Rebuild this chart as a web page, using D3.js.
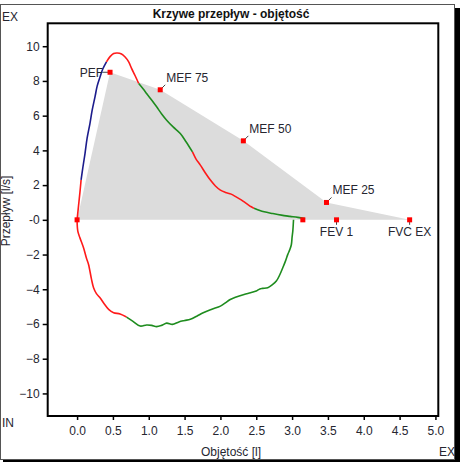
<!DOCTYPE html>
<html lang="pl">
<head>
<meta charset="UTF-8" />
<title>Krzywe przepływ - objętość</title>
<style>
  * { margin:0; padding:0; box-sizing:border-box; }
  body { background:#fff; width:462px; height:462px; overflow:hidden; }
  svg { display:block; font-family:'Liberation Sans', Arial, sans-serif; }
  .tick text { font-size:12px; fill:#262630; }
  .lbl { font-size:12px; fill:#262630; }
</style>
</head>
<body>
<script src="https://cdnjs.cloudflare.com/ajax/libs/d3/7.8.5/d3.min.js"></script>
<script>
  // expiration curve: [volume l, flow l/s], colour segment index
  const expVol  = [0,0.02,0.04,0.056, 0.08,0.11,0.14,0.18,0.21,0.25,0.28,0.32,0.36,0.41,
                   0.46,0.51,0.56,0.62,0.67,0.72,0.76,0.81,0.86,
                   0.92,0.97,1.04,1.11,1.18,1.25,1.34,1.44,1.52,1.61,
                   1.66,1.72,1.79,1.86,1.93,2.00,2.07,2.15,2.22,2.29,2.36,2.43,2.47,
                   2.54,2.61,2.73,2.85,2.97,3.08,3.18];
  const expFlow = [0,0.8,1.6,2.3, 3.0,3.8,4.7,5.56,6.3,7.08,7.7,8.23,8.7,9.1,
                   9.4,9.58,9.61,9.55,9.38,9.1,8.72,8.3,7.85,
                   7.55,7.28,6.9,6.51,6.1,5.74,5.35,4.97,4.5,3.91,
                   3.5,3.15,2.7,2.29,1.95,1.71,1.58,1.48,1.32,1.15,0.95,0.75,0.66,
                   0.55,0.46,0.36,0.27,0.2,0.14,0.06];
  // index where each coloured piece ends
  const expBreaks = [3, 13, 22, 32, 45, 52];
  const expColors = ['red','blue','red','green','red','green'];

  // inspiration curve
  const inVol  = [0,0.01,0.04,0.09,0.13,0.16,0.20,0.23,0.27,0.32,0.38,0.44,0.51,0.60,0.69,
                  0.78,0.88,0.97,1.04,1.11,1.18,1.25,1.33,1.42,1.50,1.58,1.67,1.76,1.88,
                  2.00,2.07,2.13,2.20,2.33,2.42,2.50,2.55,2.59,2.66,2.72,2.78,2.83,2.87,
                  2.91,2.94,2.97,2.99,3.00,3.01,3.02];
  const inFlow = [0,-0.65,-1.04,-1.61,-2.2,-2.57,-3.4,-3.91,-4.25,-4.49,-4.85,-5.16,-5.35,-5.42,-5.6,
                  -5.85,-6.12,-6.06,-6.08,-6.15,-6.08,-5.95,-6.02,-5.88,-5.8,-5.73,-5.55,-5.35,-5.15,
                  -4.97,-4.78,-4.6,-4.48,-4.3,-4.2,-4.1,-3.98,-3.95,-3.91,-3.75,-3.53,-3.15,-2.76,
                  -2.35,-1.99,-1.7,-1.42,-1.0,-0.65,0];
  const inBreaks = [14, 49];
  const inColors = ['red','green'];

  // marked points
  const markNames = ['PEF','MEF 75','MEF 50','MEF 25','FEV 1','FVC EX'];
  const markVol   = [0.46, 1.16, 2.32, 3.48, 3.62, 4.64];
  const markFlow  = [8.5, 7.49, 4.55, 1.0, 0, 0];
  const endMarks  = [[0,0],[3.15,0]];

  const xTicks = d3.range(0, 5.01, 0.5);
  const yTicks = d3.range(-10, 10.1, 2);

  const colorMap = { red:'#ff1a1a', blue:'#1c1c8c', green:'#1e8c1e' };

  const W = 462, H = 462;
  const plot = { l:47.7, t:23.3, r:438.3, b:416 };

  const svg = d3.select('body').append('svg').attr('width', W).attr('height', H);

  // outer frame with shadow
  svg.append('rect').attr('x',455).attr('y',8).attr('width',5).attr('height',454).attr('fill','#000');
  svg.append('rect').attr('x',3).attr('y',459).attr('width',457).attr('height',3).attr('fill','#000');
  svg.append('rect').attr('x',0.5).attr('y',4.5).attr('width',454).attr('height',455)
     .attr('fill','#fff').attr('stroke','#555').attr('stroke-width',1);

  const x = d3.scaleLinear().domain([-0.41, 5.04]).range([plot.l, plot.r]);
  const y = d3.scaleLinear().domain([-11.3, 11.32]).range([plot.b, plot.t]);

  // grey parameter area
  const poly = [[0,0]].concat(markNames.map((n,i)=>[markVol[i], markFlow[i]]).filter((d,i)=>markNames[i]!=='FEV 1'));
  svg.append('path')
     .attr('d', d3.line().x(d=>x(d[0])).y(d=>y(d[1]))(poly) + 'Z')
     .attr('fill','#dcdcdc');

  // coloured curve pieces
  function drawCurve(vol, flow, breaks, colors) {
    let start = 0;
    breaks.forEach((end, k) => {
      const pts = d3.range(start, end + 1).map(i => [vol[i], flow[i]]);
      svg.append('path')
         .attr('d', d3.line().x(d=>x(d[0])).y(d=>y(d[1])).curve(d3.curveCatmullRom)(pts))
         .attr('fill','none').attr('stroke', colorMap[colors[k]]).attr('stroke-width',1.6);
      start = end;
    });
  }
  drawCurve(inVol, inFlow, inBreaks, inColors);
  drawCurve(expVol, expFlow, expBreaks, expColors);

  // markers and labels
  const ms = 5;
  endMarks.forEach(d => {
    svg.append('rect').attr('x', x(d[0])-ms/2).attr('y', y(d[1])-ms/2)
       .attr('width', ms).attr('height', ms).attr('fill','#ff0000');
  });
  markNames.forEach((name, i) => {
    const px = x(markVol[i]), py = y(markFlow[i]);
    const g = svg.append('g');
    if (name === 'PEF') {
      g.append('line').attr('x1',px-7).attr('y1',py).attr('x2',px-2).attr('y2',py).attr('stroke','#444');
      g.append('text').attr('class','lbl').attr('x',px-7).attr('y',py+4.5).attr('text-anchor','end').text(name);
    } else if (markFlow[i] === 0) {
      g.append('line').attr('x1',px).attr('y1',py).attr('x2',px).attr('y2',py+5).attr('stroke','#444');
      g.append('text').attr('class','lbl').attr('x',px).attr('y',py+16).attr('text-anchor','middle').text(name);
    } else {
      g.append('line').attr('x1',px+1).attr('y1',py-1).attr('x2',px+5).attr('y2',py-5).attr('stroke','#444');
      g.append('text').attr('class','lbl').attr('x',px+6).attr('y',py-8).text(name);
    }
    g.append('rect').attr('x', px-ms/2).attr('y', py-ms/2)
     .attr('width', ms).attr('height', ms).attr('fill','#ff0000');
  });

  // axes
  svg.append('g').attr('transform',`translate(${plot.l},0)`)
     .call(d3.axisLeft(y).tickValues(yTicks).tickSize(5).tickPadding(3)
       .tickFormat(d => d === 0 ? '-0' : d3.format('d')(d)))
     .call(g => g.select('.domain').remove())
     .call(g => g.selectAll('.tick line').attr('stroke','#000').attr('stroke-width',1.5));
  svg.append('g').attr('transform',`translate(0,${plot.b})`)
     .call(d3.axisBottom(x).tickValues(xTicks).tickSize(4).tickPadding(6).tickFormat(d3.format('.1f')))
     .call(g => g.select('.domain').remove())
     .call(g => g.selectAll('.tick line').attr('stroke','#000').attr('stroke-width',1.5));

  svg.append('rect').attr('x',plot.l).attr('y',plot.t)
     .attr('width',plot.r-plot.l).attr('height',plot.b-plot.t)
     .attr('fill','none').attr('stroke','#000').attr('stroke-width',2);

  // titles
  svg.append('text').attr('x',231).attr('y',17.5).attr('text-anchor','middle')
     .attr('font-size',12).attr('font-weight','bold').attr('fill','#111').text('Krzywe przepływ - objętość');
  svg.append('text').attr('class','lbl').attr('x',231).attr('y',456).attr('text-anchor','middle').text('Objętość [l]');
  svg.append('text').attr('class','lbl').attr('transform','translate(10,211) rotate(-90)')
     .attr('text-anchor','middle').text('Przepływ [l/s]');
  svg.append('text').attr('class','lbl').attr('x',2).attr('y',21).text('EX');
  svg.append('text').attr('class','lbl').attr('x',2).attr('y',427).text('IN');
  svg.append('text').attr('class','lbl').attr('x',439).attr('y',456).text('EX');
  // re-draw shadow over the clipped label
  svg.append('rect').attr('x',455).attr('y',8).attr('width',5).attr('height',454).attr('fill','#000');
</script>
</body>
</html>
